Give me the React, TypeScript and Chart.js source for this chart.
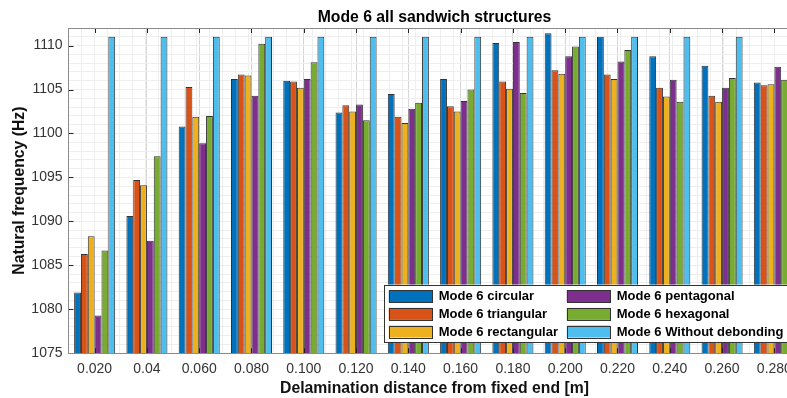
import React, { useEffect, useRef } from 'react';
import { Chart, registerables } from 'chart.js';

Chart.register(...registerables);

const categories = ['0.020', '0.04', '0.060', '0.080', '0.100', '0.120', '0.140', '0.160', '0.180', '0.200', '0.220', '0.240', '0.260', '0.280'];

const circular = [1081.9, 1090.6, 1100.8, 1106.2, 1106.0, 1102.4, 1104.5, 1106.2, 1110.3, 1111.4, 1111.0, 1108.8, 1107.7, 1105.8];
const triangular = [1086.3, 1094.7, 1105.3, 1106.7, 1105.9, 1103.2, 1101.9, 1103.1, 1105.9, 1107.2, 1106.7, 1105.2, 1104.3, 1105.5];
const rectangular = [1088.3, 1094.1, 1101.9, 1106.6, 1105.2, 1102.5, 1101.2, 1102.5, 1105.1, 1106.8, 1106.2, 1104.2, 1103.6, 1105.6];
const pentagonal = [1079.3, 1087.8, 1098.9, 1104.3, 1106.2, 1103.3, 1102.8, 1103.7, 1110.4, 1108.8, 1108.2, 1106.1, 1105.2, 1107.6];
const hexagonal = [1086.7, 1097.4, 1102.0, 1110.2, 1108.1, 1101.5, 1103.5, 1105.0, 1104.6, 1109.9, 1109.5, 1103.6, 1106.3, 1106.1];
const withoutDebonding = [1111, 1111, 1111, 1111, 1111, 1111, 1111, 1111, 1111, 1111, 1111, 1111, 1111, 1111];

const seriesLabels = ['Mode 6 circular', 'Mode 6 triangular', 'Mode 6 rectangular', 'Mode 6 pentagonal', 'Mode 6 hexagonal', 'Mode 6 Without debonding'];
const seriesValues = [circular, triangular, rectangular, pentagonal, hexagonal, withoutDebonding];
const seriesColors = ['#0072BD', '#D95319', '#EDB120', '#7E2F8E', '#77AC30', '#4DBEEE'];

const yMin = 1075;
const yMax = 1112;
const yMajorStep = 5;
const yMinorStep = 1;

const chartTitle = 'Mode 6 all sandwich structures';
const xTitle = 'Delamination distance from fixed end [m]';
const yTitle = 'Natural frequency (Hz)';

const FONT = "'Liberation Sans', Arial, Helvetica, sans-serif";

const framePlugin = {
  id: 'matlabFrame',
  afterDatasetsDraw(chart: any) {
    const { ctx, chartArea: ca, scales } = chart;
    const xs = scales.x;
    const ys = scales.y;
    ctx.save();
    // inward ticks
    ctx.strokeStyle = '#222222';
    ctx.lineWidth = 1;
    ctx.beginPath();
    for (let i = 0; i < categories.length; i++) {
      const px = Math.round(xs.getPixelForValue(i)) + 0.5;
      ctx.moveTo(px, ca.bottom);
      ctx.lineTo(px, ca.bottom - 5);
      ctx.moveTo(px, ca.top);
      ctx.lineTo(px, ca.top + 5);
    }
    for (const t of ys.ticks) {
      const py = Math.round(ys.getPixelForValue(t.value)) + 0.5;
      ctx.moveTo(ca.left, py);
      ctx.lineTo(ca.left + 5, py);
    }
    ctx.stroke();
    // axes box
    ctx.strokeStyle = '#8a8a8a';
    ctx.strokeRect(Math.round(ca.left) + 0.5, Math.round(ca.top) + 0.5, Math.round(ca.right - ca.left), Math.round(ca.bottom - ca.top));

    // legend (column-major, 2 columns x 3 rows)
    const lx = ca.left + 316;
    const ly = ca.bottom - 68.7;
    const lw = 440;
    const lh = 57.4;
    ctx.fillStyle = '#ffffff';
    ctx.fillRect(lx, ly, lw, lh);
    ctx.strokeStyle = '#333333';
    ctx.strokeRect(Math.round(lx) + 0.5, Math.round(ly) + 0.5, lw, Math.round(lh));
    const ds = chart.data.datasets;
    ctx.font = `bold 13px ${FONT}`;
    ctx.textBaseline = 'middle';
    ctx.textAlign = 'left';
    for (let k = 0; k < ds.length; k++) {
      const col = Math.floor(k / 3);
      const row = k % 3;
      const cy = ly + 11.7 + row * 17.65;
      const sx = lx + (col === 0 ? 4.3 : 182.3);
      const tx = lx + (col === 0 ? 54.3 : 232.3);
      ctx.fillStyle = ds[k].backgroundColor;
      ctx.fillRect(sx, cy - 6, 43.4, 12);
      ctx.strokeStyle = '#333333';
      ctx.strokeRect(Math.round(sx) + 0.5, Math.round(cy - 6) + 0.5, 43, 12);
      ctx.fillStyle = '#000000';
      ctx.fillText(ds[k].label, tx, cy + 0.5);
    }
    ctx.restore();
  },
};

export default function App() {
  const canvasRef = useRef<HTMLCanvasElement | null>(null);

  useEffect(() => {
    const canvas = canvasRef.current;
    if (!canvas) return;
    const chart = new Chart(canvas, {
      type: 'bar',
      data: {
        labels: categories,
        datasets: seriesLabels.map((label, k) => ({
          label,
          data: seriesValues[k],
          backgroundColor: seriesColors[k],
          borderColor: '#333333',
          borderWidth: 1,
          borderSkipped: 'start',
          categoryPercentage: 0.785,
          barPercentage: 1.0,
          xAxisID: 'x',
          yAxisID: 'y',
        })),
      },
      options: {
        responsive: false,
        devicePixelRatio: 1,
        animation: false,
        layout: { padding: { left: 0, right: 29.5, top: 0, bottom: 0 } },
        plugins: {
          legend: { display: false },
          tooltip: { enabled: false },
          title: {
            display: true,
            text: chartTitle,
            fullSize: false,
            color: '#000000',
            font: { family: FONT, size: 15.75, weight: 'bold', lineHeight: 1.2 },
            padding: { top: 8, bottom: 1.1 },
          },
        },
        scales: {
          x: {
            type: 'category',
            position: 'bottom',
            offset: true,
            grid: { display: true, offset: false, color: '#d6d6d6', drawTicks: false },
            border: { display: false },
            ticks: { font: { family: FONT, size: 14, lineHeight: 1 }, color: '#333333', padding: 9, maxRotation: 0, autoSkip: false },
            title: {
              display: true,
              text: xTitle,
              color: '#111111',
              font: { family: FONT, size: 15.75, weight: 'bold', lineHeight: 1 },
              padding: { top: -4, bottom: 1 },
            },
          },
          xMinor: {
            type: 'linear',
            position: 'bottom',
            min: -0.5,
            max: 13.5,
            z: -1,
            ticks: { display: false, stepSize: 0.25 },
            grid: { color: '#eeeeee', drawTicks: false },
            border: { display: false },
          },
          y: {
            type: 'linear',
            position: 'left',
            min: yMin,
            max: yMax,
            grid: { color: '#d6d6d6', drawTicks: false },
            border: { display: false },
            ticks: {
              stepSize: yMajorStep,
              includeBounds: false,
              font: { family: FONT, size: 14 },
              color: '#333333',
              padding: 6,
              callback: (v: any) => String(v),
            },
            title: {
              display: true,
              text: yTitle,
              color: '#111111',
              font: { family: FONT, size: 15.75, weight: 'bold', lineHeight: 1 },
              padding: { top: 12.1, bottom: -2.5 },
            },
          },
          yMinor: {
            type: 'linear',
            position: 'left',
            min: yMin,
            max: yMax,
            z: -1,
            ticks: { display: false, stepSize: yMinorStep },
            grid: { color: '#eeeeee', drawTicks: false },
            border: { display: false },
          },
        },
      } as any,
      plugins: [framePlugin],
    });
    return () => chart.destroy();
  }, []);

  return (
    <div style={{ position: 'fixed', left: 0, top: 0, width: 787, height: 398, overflow: 'hidden', background: '#ffffff' }}>
      <canvas ref={canvasRef} width={830} height={398} style={{ display: 'block' }} />
    </div>
  );
}
